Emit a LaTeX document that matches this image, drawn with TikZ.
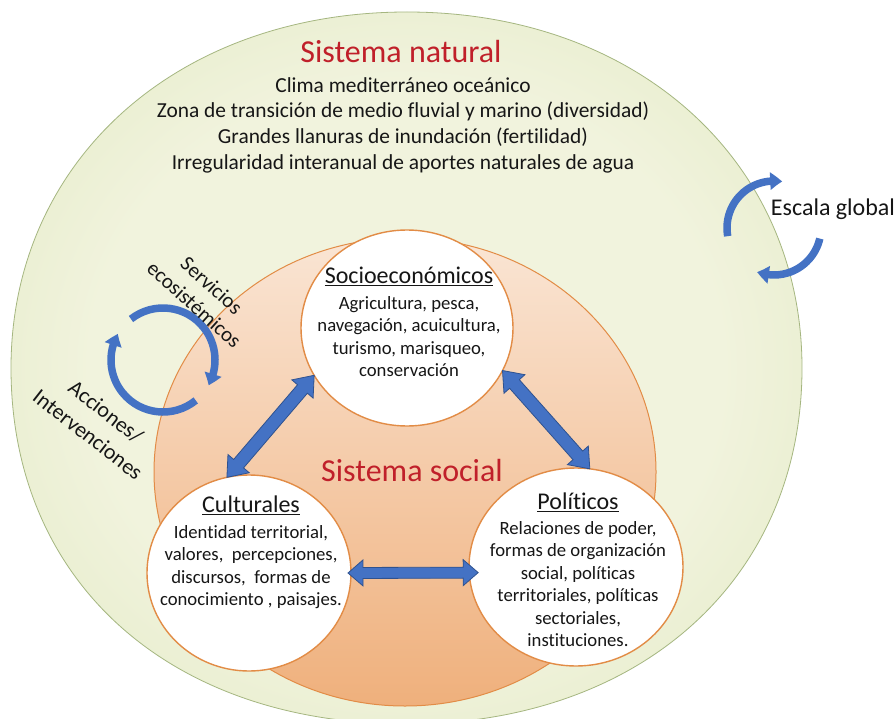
\documentclass[tikz,border=0pt]{standalone}
\usepackage{fontspec}
\setmainfont{Carlito}[Ligatures={NoCommon}]
\usetikzlibrary{calc,shapes.geometric,arrows.meta,bending}

\definecolor{sysred}{RGB}{192,32,42}
\definecolor{greenin}{RGB}{241,243,221}
\definecolor{greenout}{RGB}{210,225,170}
\definecolor{greenline}{RGB}{165,182,128}
\definecolor{orangetop}{RGB}{250,229,212}
\definecolor{orangebot}{RGB}{239,176,124}
\definecolor{orangeline}{RGB}{226,140,70}
\definecolor{arrowblue}{RGB}{68,114,196}
\definecolor{arrowedge}{RGB}{47,82,143}
\definecolor{inktext}{RGB}{22,22,22}

\pgfdeclareradialshading{greenglow}{\pgfpoint{0bp}{0bp}}{%
  color(0bp)=(greenin); color(20bp)=(greenin); color(50bp)=(greenout)}

% heading inside a white bubble
\newcommand\bubblehead[1]{{\fontsize{24}{29}\selectfont\underline{#1}}}

% block double arrow between two named points:
% #1,#2 tips, #3 head length, #4 head half width, #5 shaft half width
\newcommand\twowayarrow[5]{%
  \draw[blockarrow] (#1)
    -- ($ ($(#1)!#3!(#2)$) !#4!90:(#2) $)
    -- ($ ($(#1)!#3!(#2)$) !#5!90:(#2) $)
    -- ($ ($(#2)!#3!(#1)$) !#5!-90:(#1) $)
    -- ($ ($(#2)!#3!(#1)$) !#4!-90:(#1) $)
    -- (#2)
    -- ($ ($(#2)!#3!(#1)$) !#4!90:(#1) $)
    -- ($ ($(#2)!#3!(#1)$) !#5!90:(#1) $)
    -- ($ ($(#1)!#3!(#2)$) !#5!-90:(#2) $)
    -- ($ ($(#1)!#3!(#2)$) !#4!-90:(#2) $)
    -- cycle;}

\begin{document}
\begin{tikzpicture}[x=1pt, y=-1pt,
  bubble/.style={ellipse, draw=orangeline, line width=1.4pt, fill=white,
    inner sep=0pt, outer sep=0pt},
  blocktext/.style={align=center, inner sep=0pt, text=inktext,
    font=\fontsize{18.7}{22.5}\selectfont},
  headline/.style={inner sep=0pt, text=sysred, font=\fontsize{32}{38}\selectfont},
  sidetext/.style={align=center, inner sep=0pt, text=inktext},
  blockarrow/.style={fill=arrowblue, draw=arrowedge, line width=0.8pt, line join=miter},
  roundarrow/.style={draw=arrowblue, line width=7.5pt,
    -{Triangle[width=17pt,length=12pt,bend]}}
]
\useasboundingbox (0,0) rectangle (896,719);
\fill[white] (0,0) rectangle (896,719);

% natural system: outer green field (a slightly full oval)
\draw[greenline, line width=0.8pt, shading=greenglow]
  (11,368) .. controls (11,161) and (177,12) .. (407,12)
           .. controls (637,12) and (802,161) .. (802,368)
           .. controls (802,582) and (637,724) .. (407,724)
           .. controls (170,724) and (11,582) .. (11,368) -- cycle;

% social system: orange disc
\draw[orangeline, line width=1pt, top color=orangetop, bottom color=orangebot]
  (405,472) ellipse [x radius=251, y radius=234];

% headings and description of the natural system
\node[headline, anchor=base] (natural) at (401,63) {Sistema natural};
\node[blocktext, anchor=north, font=\fontsize{21.4}{25.9}\selectfont] (naturaltext) at (403,77)
  {Clima mediterráneo oceánico\\
   Zona de transición de medio fluvial y marino (diversidad)\\
   Grandes llanuras de inundación (fertilidad)\\
   Irregularidad interanual de aportes naturales de agua};
\node[headline, anchor=base] (social) at (412,481) {Sistema social};

% the three subsystems
\node[bubble, minimum width=212pt, minimum height=196pt] (socio) at (407,328) {};
\node[bubble, minimum width=204pt, minimum height=196pt] (cult) at (249,573) {};
\node[bubble, minimum width=214pt, minimum height=198pt] (pol) at (576,567) {};

\node[blocktext, anchor=north] (sociotext) at (409,267)
  {\bubblehead{Socioeconómicos}\\[3pt]
   Agricultura, pesca,\\ navegación, acuicultura,\\ turismo, marisqueo,\\ conservación};
\node[blocktext, anchor=north] (culttext) at (251,496)
  {\bubblehead{Culturales}\\[3pt]
   Identidad territorial,\\ valores,~ percepciones,\\ discursos,~ formas de\\
   conocimiento , paisajes.};
\node[blocktext, anchor=north] (poltext) at (578,493)
  {\bubblehead{Políticos}\\[2pt]
   Relaciones de poder,\\ formas de organización\\ social, políticas\\
   territoriales, políticas\\ sectoriales,\\ instituciones.};

% two-way links between the subsystems
\coordinate (sc) at (socio.207);
\coordinate (cs) at (cult.103);
\coordinate (sp) at (socio.336);
\coordinate (ps) at (pol.82);
\coordinate (cp) at ($(cult.0)+(-3,0)$);
\coordinate (pc) at ($(pol.183)+(9,0)$);
\twowayarrow{sc}{cs}{18pt}{14pt}{6.5pt}
\twowayarrow{sp}{ps}{18pt}{14pt}{6.5pt}
\twowayarrow{cp}{pc}{15pt}{13pt}{5.5pt}

% exchange between natural and social system
\coordinate (svc) at (163,360);
\draw[roundarrow] ($(svc)+(-128:52)$) arc[start angle=-128, end angle=29, radius=52];
\draw[roundarrow] ($(svc)+(51:52)$) arc[start angle=51, end angle=210, radius=52];
\node[sidetext, rotate=-42, font=\fontsize{21}{26}\selectfont] (servicios) at (203,295)
  {Servicios\\ecosistémicos};
\node[sidetext, rotate=-38, font=\fontsize{22}{29}\selectfont] (acciones) at (97,423)
  {Acciones/\\Intervenciones};

% global scale
\coordinate (glob) at (774,228);
\draw[roundarrow] ($(glob)+(170:47)$) arc[start angle=170, end angle=280, radius=47];
\draw[roundarrow] ($(glob)+(13:47)$) arc[start angle=13, end angle=111, radius=47];
\node[sidetext, anchor=base, font=\fontsize{24}{29}\selectfont] (escala) at (833,216)
  {Escala global};
\end{tikzpicture}
\end{document}
